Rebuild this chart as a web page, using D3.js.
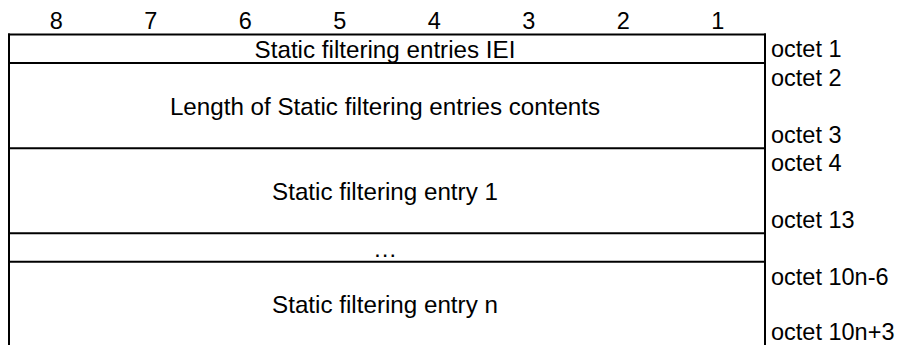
<!DOCTYPE html>
<html><head><meta charset="utf-8">
<script src="https://cdn.jsdelivr.net/npm/d3@7"></script>
<style>body{margin:0;background:#fff}svg{display:block}text{font-family:Arial,"Liberation Sans",sans-serif;font-size:23.5px;fill:#000}text.lab{font-size:24.2px}</style>
</head><body>
<script>
const bits = ["8","7","6","5","4","3","2","1"];
const rowLabels = ["Static filtering entries IEI","Length of Static filtering entries contents","Static filtering entry 1","…","Static filtering entry n"];
const rowSpans = [1,3,3,1,3];
const octetTop = ["octet 1","octet 2","octet 4","","octet 10n-6"];
const octetBottom = ["","octet 3","octet 13","","octet 10n+3"];

const W=898,H=345;
const svg=d3.select("body").append("svg").attr("width",W).attr("height",H);
const x=d3.scaleBand().domain(bits).range([9,765]);
const cum=[0];rowSpans.forEach(s=>cum.push(cum[cum.length-1]+s));
const y=d3.scaleLinear().domain([0,cum[cum.length-1]]).range([34.5,347]);

svg.selectAll("text.bit").data(bits).join("text").attr("class","bit")
 .attr("x",d=>x(d)+x.bandwidth()/2).attr("y",29).attr("text-anchor","middle").text(d=>d);

const g=svg.append("g");
g.selectAll("line.h").data(cum.slice(0,-1)).join("line").attr("class","h")
 .attr("x1",8).attr("x2",766).attr("y1",d=>y(d)).attr("y2",d=>y(d))
 .attr("stroke","#000").attr("stroke-width",2);
[9,765].forEach(xx=>g.append("line").attr("x1",xx).attr("x2",xx).attr("y1",y(0)-1).attr("y2",H)
 .attr("stroke","#000").attr("stroke-width",2));

rowLabels.forEach((lab,i)=>{
  const y0=y(cum[i]),y1=y(cum[i+1]);
  const cy=(y0+y1)/2;
  svg.append("text").attr("class","lab").attr("x",385).attr("y",cy+9).attr("text-anchor","middle").text(lab);
  if(rowSpans[i]===1){
    if(octetTop[i]) svg.append("text").attr("x",771).attr("y",cy+8.5).text(octetTop[i]);
  } else {
    if(octetTop[i]) svg.append("text").attr("x",771).attr("y",y0+23).text(octetTop[i]);
    if(octetBottom[i]) svg.append("text").attr("x",771).attr("y",Math.min(y1-5,H-5)).text(octetBottom[i]);
  }
});
</script>
</body></html>
